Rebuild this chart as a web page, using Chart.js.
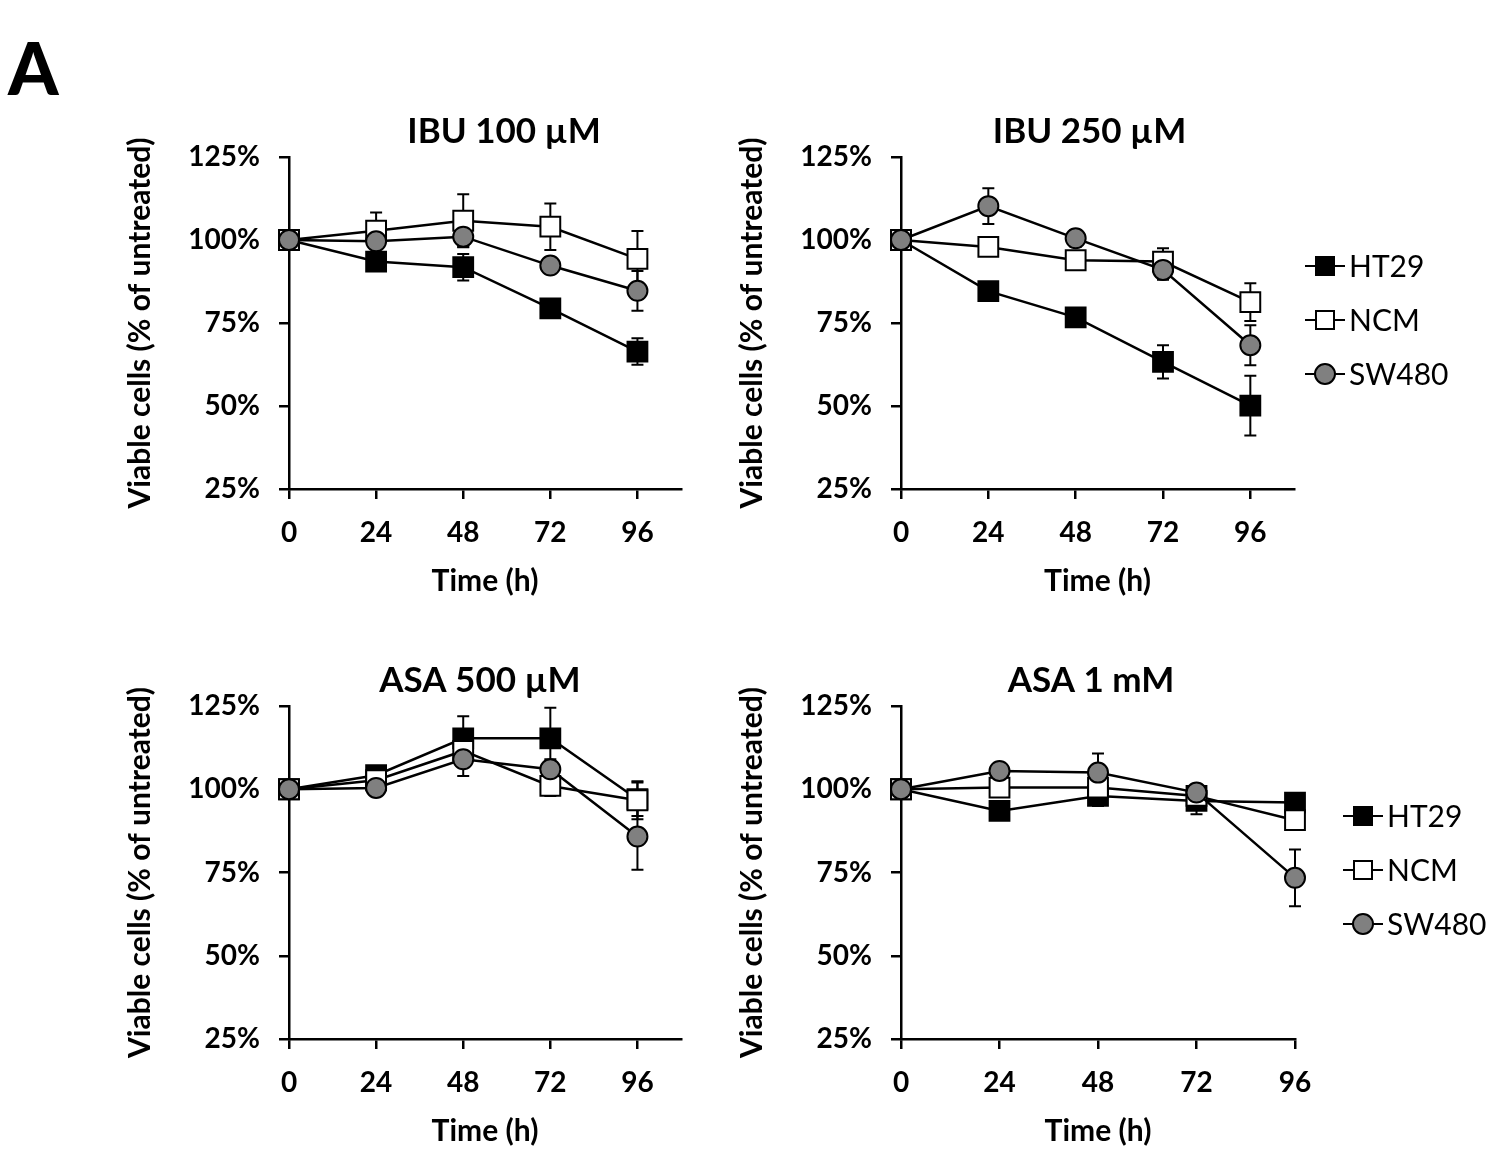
<!DOCTYPE html>
<html>
<head>
<meta charset="utf-8">
<script src="https://cdn.jsdelivr.net/npm/chart.js@4.4.0/dist/chart.umd.min.js"></script>
<style>
  body { margin: 0; background: #fff; width: 1503px; height: 1152px; position: relative; overflow: hidden; }
  canvas { position: absolute; }
  #panelLetter { position: absolute; left: 8px; top: 24px; font: 900 72px Lato, sans-serif; color: #000; }
</style>
</head>
<body>
<div id="panelLetter">A</div>
<canvas id="c1"></canvas>
<canvas id="c2"></canvas>
<canvas id="c3"></canvas>
<canvas id="c4"></canvas>
<script>
// data
const hours = [0, 24, 48, 72, 96];
const seriesNames = ['HT29', 'NCM', 'SW480'];
const panelTitles = ['IBU 100 µM', 'IBU 250 µM', 'ASA 500 µM', 'ASA 1 mM'];
const yTickValues = [25, 50, 75, 100, 125];

const ibu100HT29 = [100, 93.5, 91.8, 79.4, 66.4];
const ibu100HT29Err = [0, 1.5, 4, 2, 4];
const ibu100NCM = [100, 102.8, 105.8, 104, 94.3];
const ibu100NCMErr = [0, 5.5, 8, 7, 8.4];
const ibu100SW480 = [100, 99.6, 101, 92.3, 84.7];
const ibu100SW480Err = [0, 1.5, 3, 1.5, 6];

const ibu250HT29 = [100, 84.6, 76.7, 63.3, 50.1];
const ibu250HT29Err = [0, 1.5, 1.5, 5, 9];
const ibu250NCM = [100, 97.9, 93.9, 93.5, 81.3];
const ibu250NCMErr = [0, 1.5, 1.5, 4, 5.7];
const ibu250SW480 = [100, 110.2, 100.5, 91, 68.3];
const ibu250SW480Err = [0, 5.4, 2.5, 3, 6];

const asa500HT29 = [100, 104.2, 115.3, 115.3, 97];
const asa500HT29Err = [0, 1.5, 6.6, 9.2, 5];
const asa500NCM = [100, 102.7, 111.5, 101, 96.7];
const asa500NCMErr = [0, 1.5, 3, 3, 5.7];
const asa500SW480 = [100, 100.4, 109, 106, 85.8];
const asa500SW480Err = [0, 1.5, 5, 3, 10];

const asa1HT29 = [100, 93.5, 98, 96.5, 96];
const asa1HT29Err = [0, 1.5, 3, 4, 2];
const asa1NCM = [100, 100.5, 100.5, 98, 90.7];
const asa1NCMErr = [0, 1.5, 3, 2, 2];
const asa1SW480 = [100, 105.5, 105, 99, 73.4];
const asa1SW480Err = [0, 1.5, 5.7, 2, 8.5];

const FONT = 'Lato, sans-serif';
const markerStyles = [
    { pointStyle: 'rect', radius: 14, fill: '#000000' },
    { pointStyle: 'rect', radius: 14, fill: '#ffffff' },
    { pointStyle: 'circle', radius: 10, fill: '#808080' }
];

function points(vals) {
    return hours.map((h, i) => ({ x: h, y: vals[i] }));
}

// error bars drawn before the datasets so the markers sit on top
const errorBars = {
    id: 'errorBars',
    beforeDatasetsDraw(chart) {
        const ctx = chart.ctx;
        const ys = chart.scales.y;
        ctx.save();
        ctx.strokeStyle = '#000';
        ctx.lineWidth = 2;
        chart.data.datasets.forEach((ds, di) => {
            const meta = chart.getDatasetMeta(di);
            meta.data.forEach((pt, i) => {
                const e = ds.errors[i];
                if (!e) return;
                const v = ds.data[i].y;
                const top = ys.getPixelForValue(v + e);
                const bot = ys.getPixelForValue(v - e);
                ctx.beginPath();
                ctx.moveTo(pt.x, top); ctx.lineTo(pt.x, bot);
                ctx.moveTo(pt.x - 6, top); ctx.lineTo(pt.x + 6, top);
                ctx.moveTo(pt.x - 6, bot); ctx.lineTo(pt.x + 6, bot);
                ctx.stroke();
            });
        });
        ctx.restore();
    }
};

// panel title and optional line-marker legend
const panelText = {
    id: 'panelText',
    afterDraw(chart, args, opts) {
        const ctx = chart.ctx;
        const a = chart.chartArea;
        ctx.save();
        ctx.fillStyle = '#000';
        ctx.font = 'bold 35px ' + FONT;
        ctx.textAlign = 'center';
        ctx.textBaseline = 'middle';
        ctx.fillText(opts.title, (a.left + a.right) / 2 + opts.titleDx, a.top - 25);
        if (opts.legend) {
            const x0 = a.right + opts.legendDx;
            seriesNames.forEach((name, i) => {
                const y = a.top + opts.legendDy + i * 54;
                const m = markerStyles[i];
                ctx.strokeStyle = '#000';
                ctx.lineWidth = 2;
                ctx.beginPath();
                ctx.moveTo(x0, y); ctx.lineTo(x0 + 40, y);
                ctx.stroke();
                ctx.fillStyle = m.fill;
                ctx.beginPath();
                if (m.pointStyle === 'rect') ctx.rect(x0 + 11, y - 9, 18, 18);
                else ctx.arc(x0 + 20, y, 10, 0, Math.PI * 2);
                ctx.fill();
                ctx.stroke();
                ctx.fillStyle = '#000';
                ctx.font = '30px ' + FONT;
                ctx.textAlign = 'left';
                ctx.fillText(name, x0 + 44, y + 1);
            });
        }
        ctx.restore();
    }
};

function makePanel(id, box, title, xMax, series, textOpts) {
    const cv = document.getElementById(id);
    cv.style.left = box.left + 'px';
    cv.style.top = box.top + 'px';
    cv.width = box.width;
    cv.height = box.height;
    const datasets = series.map((s, i) => ({
        label: seriesNames[i],
        data: points(s[0]),
        errors: s[1],
        order: 2 - i,
        borderColor: '#000',
        borderWidth: 2.5,
        tension: 0,
        pointStyle: markerStyles[i].pointStyle,
        pointRadius: markerStyles[i].radius,
        pointHoverRadius: markerStyles[i].radius,
        pointBackgroundColor: markerStyles[i].fill,
        pointBorderColor: '#000',
        pointBorderWidth: 2
    }));
    return new Chart(cv.getContext('2d'), {
        type: 'line',
        data: { datasets: datasets },
        options: {
            responsive: false,
            animation: false,
            clip: false,
            layout: { padding: { top: 60, right: box.padRight, left: 0, bottom: 0 } },
            plugins: {
                legend: { display: false },
                tooltip: { enabled: false },
                panelText: Object.assign({ title: title }, textOpts)
            },
            scales: {
                x: {
                    type: 'linear',
                    min: 0,
                    max: xMax,
                    afterFit: (s) => { s.height = 120; },
                    border: { display: true, color: '#000', width: 2.5 },
                    grid: { display: true, drawOnChartArea: false, drawTicks: true, tickLength: 10, color: '#000', lineWidth: 2.5 },
                    ticks: { stepSize: 24, includeBounds: false, padding: 17, color: '#000', font: { family: FONT, size: 28, weight: 'bold' } },
                    title: { display: true, text: 'Time (h)', color: '#000', padding: { top: 0, bottom: 10 }, font: { family: FONT, size: 30, weight: 'bold' } }
                },
                y: {
                    min: yTickValues[0],
                    max: yTickValues[yTickValues.length - 1],
                    afterFit: (s) => { s.width = 189; },
                    afterBuildTicks: (s) => { s.ticks = yTickValues.map(v => ({ value: v })); },
                    border: { display: true, color: '#000', width: 2.5 },
                    grid: { display: true, drawOnChartArea: false, drawTicks: true, tickLength: 10, color: '#000', lineWidth: 2.5 },
                    ticks: { padding: 19, color: '#000', font: { family: FONT, size: 28, weight: 'bold' }, callback: (v) => v + '%' },
                    title: { display: true, text: 'Viable cells (% of untreated)', color: '#000', padding: { top: 22, bottom: 0 }, font: { family: FONT, size: 30, weight: 'bold' } }
                }
            }
        },
        plugins: [errorBars, panelText]
    });
}

makePanel('c1', { left: 100, top: 97, width: 600, height: 512, padRight: 19 }, panelTitles[0], 108, [
    [ibu100HT29, ibu100HT29Err], [ibu100NCM, ibu100NCMErr], [ibu100SW480, ibu100SW480Err]
], { titleDx: 19, legend: false });

makePanel('c2', { left: 712, top: 97, width: 788, height: 512, padRight: 206 }, panelTitles[1], 108, [
    [ibu250HT29, ibu250HT29Err], [ibu250NCM, ibu250NCMErr], [ibu250SW480, ibu250SW480Err]
], { titleDx: -8, legend: true, legendDx: 11, legendDy: 109 });

makePanel('c3', { left: 100, top: 646, width: 600, height: 513, padRight: 19 }, panelTitles[2], 108, [
    [asa500HT29, asa500HT29Err], [asa500NCM, asa500NCMErr], [asa500SW480, asa500SW480Err]
], { titleDx: -5, legend: false });

makePanel('c4', { left: 712, top: 646, width: 791, height: 513, padRight: 208 }, panelTitles[3], 96, [
    [asa1HT29, asa1HT29Err], [asa1NCM, asa1NCMErr], [asa1SW480, asa1SW480Err]
], { titleDx: -7, legend: true, legendDx: 48, legendDy: 110 });
</script>
</body>
</html>
